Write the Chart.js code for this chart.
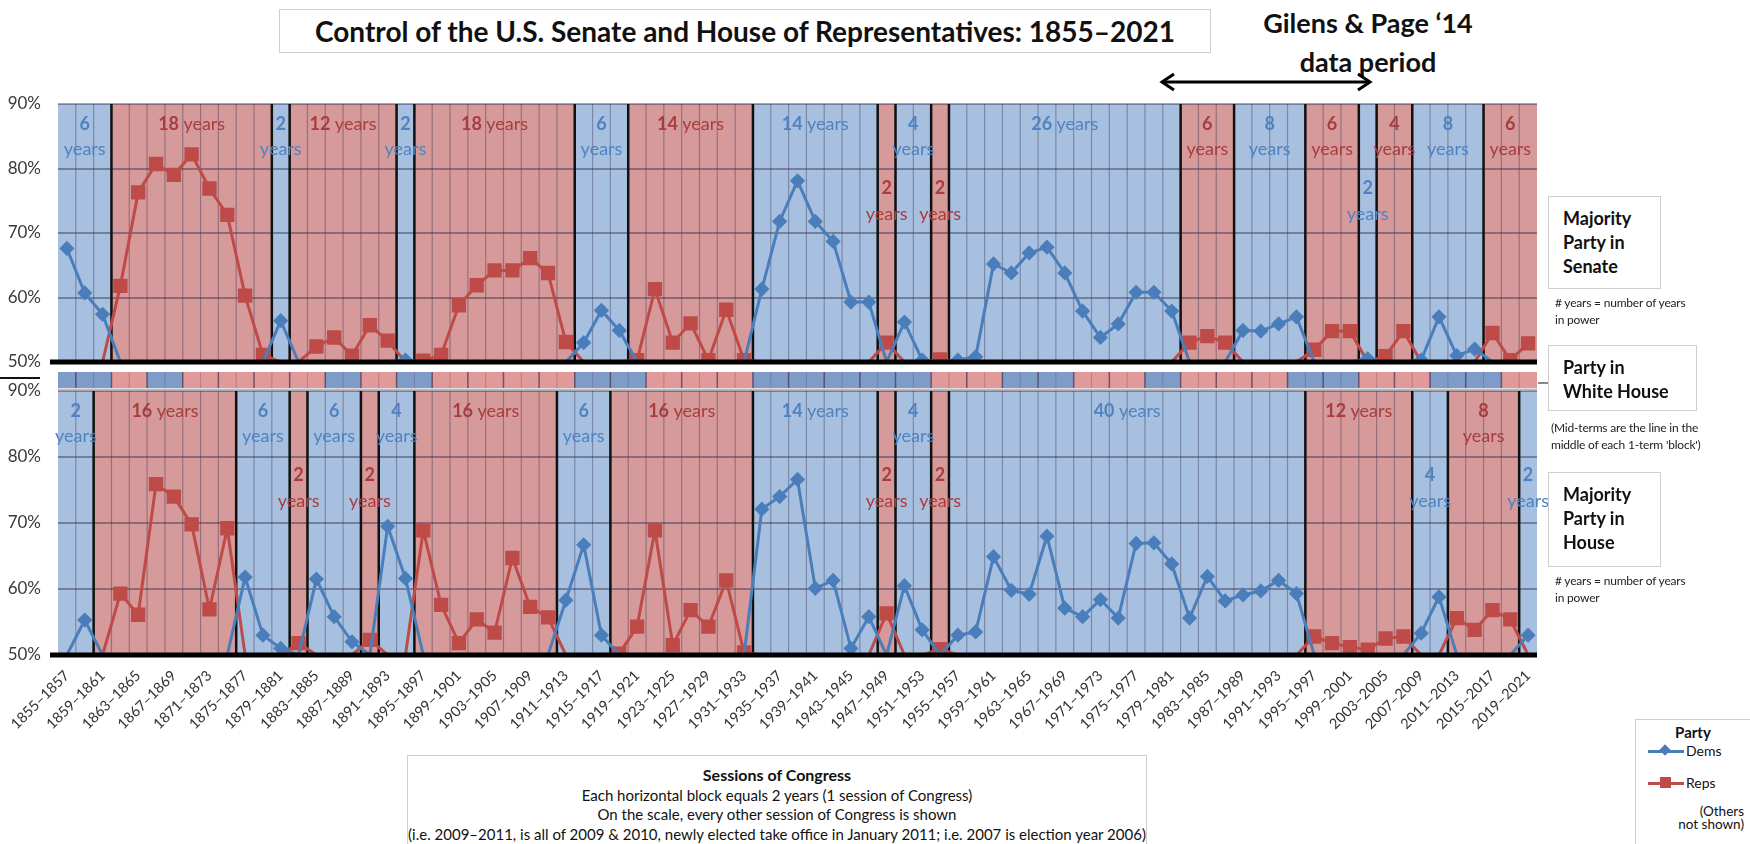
<!DOCTYPE html>
<html>
<head>
<meta charset="utf-8">
<script src="https://cdn.jsdelivr.net/npm/chart.js@4.4.1/dist/chart.umd.min.js"></script>
<style>
body { margin: 0; width: 1750px; height: 844px; background: #fff; position: relative; overflow: hidden; font-family: Lato, 'DejaVu Sans', sans-serif; color: #111; }
canvas { position: absolute; left: 0; }
.box { position: absolute; border: 1px solid #cfcfcf; background: #fff; box-sizing: border-box; }
.side { font-weight: bold; font-size: 18px; line-height: 24px; padding: 9px 0 0 14px; }
.note { position: absolute; font-size: 12px; line-height: 17px; color: #222; letter-spacing: -0.2px; }
.hline { position: absolute; height: 2px; }
</style>
</head>
<body>

<div class="box" style="left:279px;top:9px;width:932px;height:44px;text-align:center;font-weight:bold;font-size:28px;line-height:42px;">Control of the U.S. Senate and House of Representatives: 1855–2021</div>
<div style="position:absolute;left:1218px;top:3px;width:300px;text-align:center;font-weight:bold;font-size:27px;line-height:39px;">Gilens &amp; Page ‘14<br>data period</div>
<svg style="position:absolute;left:1158px;top:71px" width="216" height="22">
  <line x1="6" y1="11" x2="210" y2="11" stroke="#000" stroke-width="3"/>
  <polyline points="16,3 4,11 16,19" fill="none" stroke="#000" stroke-width="3"/>
  <polyline points="200,3 212,11 200,19" fill="none" stroke="#000" stroke-width="3"/>
</svg>

<canvas id="senate" width="1560" height="280" style="top:93px"></canvas>
<canvas id="house" width="1560" height="372" style="top:380px"></canvas>
<canvas id="white" width="1560" height="20" style="top:370px"></canvas>

<div class="hline" style="left:0;top:377px;width:40px;background:#111;"></div>
<div class="hline" style="left:1538px;top:382px;width:10px;background:#888;"></div>

<div class="box side" style="left:1548px;top:196px;width:113px;height:93px;">Majority<br>Party in<br>Senate</div>
<div class="note" style="left:1555px;top:294px;"># years = number of years<br>in power</div>
<div class="box side" style="left:1548px;top:345px;width:149px;height:66px;padding-top:9px;">Party in<br>White House</div>
<div class="note" style="left:1551px;top:419px;">(Mid-terms are the line in the<br>middle of each 1-term 'block')</div>
<div class="box side" style="left:1548px;top:472px;width:113px;height:95px;">Majority<br>Party in<br>House</div>
<div class="note" style="left:1555px;top:572px;"># years = number of years<br>in power</div>

<div class="box" style="left:407px;top:755px;width:740px;height:100px;text-align:center;font-size:15px;line-height:19.5px;padding-top:9px;">
  <b style="font-size:16px">Sessions of Congress</b><br>
  Each horizontal block equals 2 years (1 session of Congress)<br>
  On the scale, every other session of Congress is shown<br>
  <span style="white-space:nowrap;margin-left:-30px;margin-right:-30px;display:inline-block;">(i.e. 2009–2011, is all of 2009 &amp; 2010, newly elected take office in January 2011; i.e. 2007 is election year 2006)</span>
</div>

<div class="box" style="left:1635px;top:719px;width:116px;height:130px;font-size:14px;">
  <div style="text-align:center;font-weight:bold;font-size:15px;margin-top:3px;">Party</div>
  <div style="position:relative;height:32px;">
    <div style="position:absolute;left:12px;top:9px;width:36px;height:3px;background:#4a7ebb;"></div>
    <div style="position:absolute;left:25px;top:5px;width:8px;height:8px;background:#4a7ebb;transform:rotate(45deg);"></div>
    <div style="position:absolute;left:50px;top:1px;">Dems</div>
  </div>
  <div style="position:relative;height:32px;">
    <div style="position:absolute;left:12px;top:9px;width:36px;height:3px;background:#be4b48;"></div>
    <div style="position:absolute;left:24px;top:4px;width:11px;height:11px;background:#be4b48;"></div>
    <div style="position:absolute;left:50px;top:1px;">Reps</div>
  </div>
  <div style="text-align:right;padding-right:6px;line-height:13px;font-size:13.5px;">(Others<br>not shown)</div>
</div>

<script>
// sessions of Congress, one per 2-year block
const sessionLabels = ['1855–1857','1857–1859','1859–1861','1861–1863','1863–1865','1865–1867','1867–1869','1869–1871','1871–1873','1873–1875',
  '1875–1877','1877–1879','1879–1881','1881–1883','1883–1885','1885–1887','1887–1889','1889–1891','1891–1893','1893–1895',
  '1895–1897','1897–1899','1899–1901','1901–1903','1903–1905','1905–1907','1907–1909','1909–1911','1911–1913','1913–1915',
  '1915–1917','1917–1919','1919–1921','1921–1923','1923–1925','1925–1927','1927–1929','1929–1931','1931–1933','1933–1935',
  '1935–1937','1937–1939','1939–1941','1941–1943','1943–1945','1945–1947','1947–1949','1949–1951','1951–1953','1953–1955',
  '1955–1957','1957–1959','1959–1961','1961–1963','1963–1965','1965–1967','1967–1969','1969–1971','1971–1973','1973–1975',
  '1975–1977','1977–1979','1979–1981','1981–1983','1983–1985','1985–1987','1987–1989','1989–1991','1991–1993','1993–1995',
  '1995–1997','1997–1999','1999–2001','2001–2003','2003–2005','2005–2007','2007–2009','2009–2011','2011–2013','2013–2015',
  '2015–2017','2017–2019','2019–2021'];

// majority party per session (D / R)
const senateMajority = 'DDDRRRRRRRRRDRRRRRRDRRRRRRRRRDDDRRRRRRRDDDDDDDRDDRDDDDDDDDDDDDDRRRDDDDRRRDRRDDDDRRR'.split('');
const houseMajority = 'DDRRRRRRRRDDDRDDDRDDRRRRRRRRDDDRRRRRRRRDDDDDDDRDDRDDDDDDDDDDDDDDDDDDDDRRRRRRDDRRRRD'.split('');
const whiteHouse = 'DDDRRDDRRRRRRRRDDRRDDRRRRRRRRDDDDRRRRRRDDDDDDDDDDRRRRDDDDRRRRDDRRRRRRDDDDRRRRDDDDRR'.split('');

// "N years" written in each block
const senateYears = [6, 18, 2, 12, 2, 18, 6, 14, 14, 2, 4, 2, 26, 6, 8, 6, 2, 4, 8, 6];
const houseYears = [2, 16, 6, 2, 6, 2, 4, 16, 6, 16, 14, 2, 4, 2, 40, 12, 4, 8, 2];

// share of seats (%), 50 = at or below half
const senateDems = [67.6, 60.7, 57.4, 50, 50, 50, 50, 50, 50, 50,
  50, 50, 56.4, 50, 50, 50, 50, 50, 50, 50.3,
  50, 50, 50, 50, 50, 50, 50, 50, 50, 53.0,
  58.0, 54.9, 50, 50, 50, 50, 50, 50, 50, 61.3,
  71.8, 78.1, 71.8, 68.7, 59.3, 59.3, 50, 56.2, 50.3, 50,
  50.3, 50.8, 65.2, 63.8, 66.9, 67.8, 63.8, 57.9, 53.8, 55.9,
  60.8, 60.8, 57.9, 50, 50, 50, 54.9, 54.8, 55.9, 57.0,
  50, 50, 50, 50.5, 50, 50, 50.3, 57.0, 51.0, 52.0,
  50, 50, 50];
const senateReps = [50, 50, 50, 61.8, 76.3, 80.7, 79.0, 82.2, 76.9, 72.8,
  60.3, 51.1, 50, 50, 52.4, 53.8, 51.0, 55.7, 53.3, 50,
  50.2, 51.1, 58.8, 61.9, 64.2, 64.2, 66.1, 63.8, 53.1, 50,
  50, 50, 50.3, 61.3, 53.0, 56.0, 50.3, 58.1, 50.3, 50,
  50, 50, 50, 50, 50, 50, 53.0, 50, 50, 50.4,
  50, 50, 50, 50, 50, 50, 50, 50, 50, 50,
  50, 50, 50, 53.0, 54.0, 53.0, 50, 50, 50, 50,
  51.9, 54.8, 54.8, 50, 50.9, 54.8, 50, 50, 50, 50,
  54.5, 50.3, 52.9];
const houseDems = [50, 55.3, 50, 50, 50, 50, 50, 50, 50, 50,
  61.8, 53.0, 51.0, 50, 61.5, 55.8, 52.0, 50, 69.5, 61.6,
  50, 50, 50, 50, 50, 50, 50, 50, 58.3, 66.7,
  53.0, 50, 50, 50, 50, 50, 50, 50, 50, 72.1,
  74.0, 76.6, 60.1, 61.3, 51.0, 55.8, 50, 60.5, 53.8, 50,
  53.0, 53.5, 64.9, 59.8, 59.2, 68.0, 57.1, 55.8, 58.4, 55.6,
  66.9, 67.0, 63.8, 55.6, 61.9, 58.2, 59.1, 59.7, 61.3, 59.3,
  50, 50, 50, 50, 50, 50, 53.3, 58.8, 50, 50,
  50, 50, 53.0];
const houseReps = [50, 50, 50, 59.3, 56.1, 75.9, 74.0, 69.8, 56.9, 69.2,
  50, 50, 50, 51.8, 50, 50, 50, 52.3, 50, 50,
  68.9, 57.6, 51.8, 55.4, 53.4, 64.7, 57.3, 55.7, 50, 50,
  50, 50.2, 54.3, 68.9, 51.5, 56.8, 54.3, 61.3, 50.4, 50,
  50, 50, 50, 50, 50, 50, 56.3, 50, 50, 50.9,
  50, 50, 50, 50, 50, 50, 50, 50, 50, 50,
  50, 50, 50, 50, 50, 50, 50, 50, 50, 50,
  52.8, 51.8, 51.2, 50.8, 52.5, 52.8, 50, 50, 55.6, 53.8,
  56.8, 55.4, 50];

const yTicks = [50, 60, 70, 80, 90];

const DEM_BG = '#a8c0df';
const REP_BG = '#d69a9a';
const DEM_LINE = '#4a7ebb';
const REP_LINE = '#be4b48';
const DEM_TEXT = '#4f82c0';
const REP_TEXT = '#a83c3e';

Chart.defaults.font.family = "Lato, 'DejaVu Sans', sans-serif";
Chart.defaults.color = '#333';
Chart.defaults.animation = false;

function blocksOf(parties) {
    const out = [];
    parties.forEach((p, i) => {
        const last = out[out.length - 1];
        if (last && last.party === p) last.end = i;
        else out.push({ party: p, start: i, end: i });
    });
    return out;
}

// backgrounds, dividers, "N years" text and the 50% baseline
function panelPlugin(parties, years, lowStarts) {
    const blocks = blocksOf(parties);
    return {
        id: 'panel',
        beforeDraw(chart) {
            const { ctx, chartArea: a, scales: { x } } = chart;
            const half = (x.getPixelForValue(1) - x.getPixelForValue(0)) / 2;
            ctx.save();
            blocks.forEach(b => {
                const x0 = x.getPixelForValue(b.start) - half;
                const x1 = x.getPixelForValue(b.end) + half;
                ctx.fillStyle = b.party === 'D' ? DEM_BG : REP_BG;
                ctx.fillRect(x0, a.top, x1 - x0, a.bottom - a.top);
            });
            ctx.strokeStyle = 'rgba(50,45,80,0.38)';
            ctx.lineWidth = 1.2;
            for (let i = 1; i < parties.length; i++) {
                const px = x.getPixelForValue(i) - half;
                ctx.beginPath(); ctx.moveTo(px, a.top); ctx.lineTo(px, a.bottom); ctx.stroke();
            }
            ctx.restore();
        },
        beforeDatasetsDraw(chart) {
            const { ctx, chartArea: a, scales: { x } } = chart;
            const half = (x.getPixelForValue(1) - x.getPixelForValue(0)) / 2;
            ctx.save();
            ctx.strokeStyle = '#111';
            ctx.lineWidth = 2.5;
            blocks.slice(1).forEach(b => {
                const px = x.getPixelForValue(b.start) - half;
                ctx.beginPath(); ctx.moveTo(px, a.top); ctx.lineTo(px, a.bottom); ctx.stroke();
            });
            ctx.textAlign = 'center';
            ctx.textBaseline = 'middle';
            blocks.forEach((b, k) => {
                const cx = (x.getPixelForValue(b.start) + x.getPixelForValue(b.end)) / 2;
                const low = lowStarts.includes(b.start);
                const y1 = a.top + (low ? 84 : 20);
                const y2 = a.top + (low ? 110 : 45);
                ctx.fillStyle = b.party === 'D' ? DEM_TEXT : REP_TEXT;
                const n = String(years[k]);
                if (b.end - b.start + 1 >= 6) {
                    ctx.font = 'bold 18px Lato';
                    const wn = ctx.measureText(n + ' ').width;
                    ctx.font = '18px Lato';
                    const wy = ctx.measureText('years').width;
                    const left = cx - (wn + wy) / 2;
                    ctx.textAlign = 'left';
                    ctx.font = 'bold 18px Lato';
                    ctx.fillText(n, left, y1);
                    ctx.font = '18px Lato';
                    ctx.fillText('years', left + wn, y1);
                    ctx.textAlign = 'center';
                } else {
                    ctx.font = 'bold 18px Lato';
                    ctx.fillText(n, cx, y1);
                    ctx.font = '18px Lato';
                    ctx.fillText('years', cx, y2);
                }
            });
            ctx.restore();
        },
        afterDatasetsDraw(chart) {
            const { ctx, chartArea: a } = chart;
            ctx.save();
            ctx.fillStyle = '#000';
            ctx.fillRect(a.left - 8, a.bottom - 2.5, a.right - a.left + 8, 5);
            ctx.restore();
        }
    };
}

function lineSet(label, values, color, style, radius) {
    return {
        label: label,
        data: values,
        borderColor: color,
        backgroundColor: color,
        borderWidth: 3,
        pointStyle: style,
        pointRadius: ctx => (ctx.raw > 50 ? radius : 0),
        tension: 0
    };
}

function yScale() {
    return {
        min: 50, max: 90,
        afterFit: s => { s.width = 58; s.paddingTop = 0; s.paddingBottom = 0; },
        afterBuildTicks: s => { s.ticks = yTicks.map(v => ({ value: v })); },
        border: { display: false },
        grid: { color: 'rgba(45,35,70,0.42)', lineWidth: 2, drawTicks: false },
        ticks: { padding: 17, color: '#3a3a3a', font: { size: 17 }, callback: v => v + '%' }
    };
}

new Chart(document.getElementById('senate'), {
    type: 'line',
    data: {
        labels: sessionLabels,
        datasets: [
            lineSet('Dems', senateDems, DEM_LINE, 'rectRot', 5.5),
            lineSet('Reps', senateReps, REP_LINE, 'rect', 8)
        ]
    },
    options: {
        responsive: false,
        layout: { padding: { top: 10, bottom: 5, left: 0, right: 23 } },
        plugins: { legend: { display: false }, tooltip: { enabled: false } },
        scales: {
            x: { offset: true, display: false },
            y: yScale()
        }
    },
    plugins: [panelPlugin(senateMajority, senateYears, [46, 49, 73])]
});

new Chart(document.getElementById('house'), {
    type: 'line',
    data: {
        labels: sessionLabels,
        datasets: [
            lineSet('Dems', houseDems, DEM_LINE, 'rectRot', 5.5),
            lineSet('Reps', houseReps, REP_LINE, 'rect', 8)
        ]
    },
    options: {
        responsive: false,
        layout: { padding: { top: 11, bottom: 0, left: 0, right: 23 } },
        plugins: { legend: { display: false }, tooltip: { enabled: false } },
        scales: {
            x: {
                offset: true,
                afterFit: s => { s.height = 97; },
                border: { display: false },
                grid: { display: false, drawTicks: false },
                ticks: {
                    autoSkip: false, minRotation: 45, maxRotation: 45, padding: 12,
                    color: '#333', font: { size: 14.5 },
                    callback: (v, i) => (i % 2 === 0 ? sessionLabels[i] : '')
                }
            },
            y: yScale()
        }
    },
    plugins: [panelPlugin(houseMajority, houseYears, [13, 17, 46, 49, 76, 82])]
});

// party in the White House, one bar per session
new Chart(document.getElementById('white'), {
    type: 'bar',
    data: {
        labels: sessionLabels,
        datasets: [{
            data: whiteHouse.map(() => 1),
            backgroundColor: whiteHouse.map(p => (p === 'D' ? '#7f9cc8' : '#e09a9a')),
            barPercentage: 1,
            categoryPercentage: 1,
            borderWidth: 0
        }]
    },
    options: {
        responsive: false,
        layout: { padding: { top: 2, bottom: 2, left: 58, right: 23 } },
        plugins: { legend: { display: false }, tooltip: { enabled: false } },
        scales: {
            x: { display: false },
            y: { display: false, min: 0, max: 1 }
        }
    },
    plugins: [{
        id: 'terms',
        afterDatasetsDraw(chart) {
            const { ctx, chartArea: a, scales: { x } } = chart;
            const half = (x.getPixelForValue(1) - x.getPixelForValue(0)) / 2;
            ctx.save();
            for (let i = 1; i < whiteHouse.length; i++) {
                const px = x.getPixelForValue(i) - half;
                ctx.strokeStyle = i % 2 === 1 ? 'rgba(70,50,80,0.7)' : 'rgba(90,60,90,0.3)';
                ctx.lineWidth = i % 2 === 1 ? 1.5 : 1;
                ctx.beginPath(); ctx.moveTo(px, a.top); ctx.lineTo(px, a.bottom); ctx.stroke();
            }
            ctx.fillStyle = '#bdbdbd';
            ctx.fillRect(a.left, a.bottom + 0.5, a.right - a.left, 1.5);
            ctx.restore();
        }
    }]
});
</script>
</body>
</html>
